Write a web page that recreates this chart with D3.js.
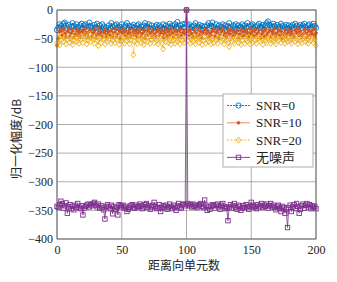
<!DOCTYPE html>
<html><head><meta charset="utf-8">
<script src="https://cdn.jsdelivr.net/npm/d3@7"></script>
<style>body{margin:0;background:#fff}svg{display:block}</style>
</head><body>
<script>
const xTicks = [0, 50, 100, 150, 200];
const yTicks = [0, -50, -100, -150, -200, -250, -300, -350, -400];
const seriesNames = ["SNR=0", "SNR=10", "SNR=20", "无噪声"];
const snr0 = [
-35,-31,-25,-28,-33,-24,-22,-27,-32,-26,-36,-29,-23,-28,-34,-25,-30,-37,-27,-24,
-32,-27,-25,-34,-29,-22,-28,-31,-36,-26,-30,-24,-33,-27,-37,-25,-29,-34,-31,-41,
-27,-32,-23,-29,-35,-27,-25,-31,-29,-34,-25,-37,-30,-27,-23,-32,-28,-35,-29,-26,
-31,-38,-27,-25,-32,-29,-36,-27,-23,-31,-29,-25,-34,-27,-32,-37,-29,-26,-33,-27,
-30,-34,-25,-32,-27,-36,-29,-24,-31,-27,-34,-25,-30,-21,-32,-27,-35,-25,-30,-24,
0,
-27,-25,-32,-29,-36,-27,-23,-31,-29,-26,-34,-28,-32,-29,-37,-27,-23,-31,-28,-22,
-30,-34,-25,-32,-27,-36,-29,-25,-31,-27,-35,-29,-23,-32,-37,-27,-29,-25,-34,-27,
-32,-29,-25,-36,-27,-31,-23,-29,-35,-27,-25,-32,-29,-36,-27,-24,-31,-29,-26,-34,
-27,-23,-20,-26,-32,-29,-24,-28,-35,-26,-30,-32,-24,-28,-34,-29,-26,-32,-27,-36,
-29,-26,-32,-24,-28,-34,-29,-26,-31,-27,-24,-30,-35,-27,-25,-32,-29,-24,-28,-31];
const snr10 = [
-62,-50,-38,-35,-44,-33,-41,-47,-37,-32,-46,-40,-35,-48,-42,-34,-44,-37,-47,-39,
-35,-44,-32,-41,-48,-37,-34,-46,-40,-35,-49,-42,-32,-44,-38,-47,-40,-34,-46,-42,
-37,-44,-35,-47,-40,-32,-46,-41,-35,-50,-39,-34,-44,-37,-48,-41,-35,-46,-40,-33,
-44,-37,-47,-40,-34,-46,-41,-35,-49,-37,-44,-32,-40,-47,-35,-42,-46,-38,-34,-44,
-40,-35,-48,-41,-34,-46,-37,-44,-32,-40,-47,-35,-42,-37,-46,-34,-44,-40,-35,-42,
0,
-37,-44,-34,-41,-47,-35,-40,-46,-32,-44,-37,-49,-40,-34,-42,-35,-47,-40,-44,-37,
-34,-46,-40,-35,-49,-42,-37,-32,-44,-40,-47,-35,-42,-34,-46,-37,-44,-40,-35,-49,
-42,-34,-46,-37,-44,-35,-40,-47,-32,-42,-37,-46,-34,-44,-40,-35,-49,-42,-37,-46,
-34,-44,-40,-35,-47,-37,-42,-32,-46,-40,-35,-44,-37,-49,-42,-34,-46,-40,-35,-44,
-37,-42,-47,-35,-40,-32,-44,-37,-46,-42,-34,-40,-47,-35,-44,-37,-42,-34,-46,-40];
const snr20 = [
-58,-50,-61,-53,-45,-55,-48,-59,-51,-46,-57,-50,-60,-53,-43,-55,-48,-58,-51,-45,
-57,-50,-46,-59,-53,-42,-55,-48,-51,-58,-45,-53,-62,-50,-57,-46,-51,-59,-48,-55,
-50,-45,-58,-53,-46,-57,-51,-44,-60,-50,-55,-48,-58,-46,-53,-50,-59,-51,-45,-78,
-55,-48,-58,-51,-46,-57,-50,-60,-53,-43,-55,-48,-58,-51,-46,-57,-50,-53,-59,-48,
-51,-58,-68,-50,-55,-46,-57,-51,-60,-48,-53,-58,-45,-55,-50,-59,-46,-53,-57,-50,
0,
-53,-46,-58,-50,-55,-45,-59,-51,-48,-57,-50,-60,-53,-46,-58,-51,-55,-48,-59,-50,
-57,-46,-53,-58,-50,-45,-55,-51,-59,-48,-53,-57,-64,-50,-55,-46,-58,-51,-48,-57,
-50,-60,-53,-46,-58,-51,-55,-48,-59,-50,-57,-45,-53,-58,-50,-46,-55,-51,-60,-48,
-53,-57,-50,-46,-58,-51,-55,-48,-59,-50,-53,-45,-57,-51,-46,-58,-50,-55,-48,-53,
-58,-50,-46,-55,-51,-59,-48,-53,-57,-50,-45,-55,-51,-58,-48,-53,-50,-57,-51,-62];
const noNoise = [
-343,-345,-340,-334,-338,-346,-342,-337,-355,-344,-340,-347,-343,-349,-341,-345,-338,-344,-347,-342,
-358,-346,-343,-341,-339,-344,-340,-342,-338,-336,-341,-344,-339,-346,-342,-345,-349,-365,-343,-340,
-344,-347,-341,-356,-343,-348,-345,-358,-340,-342,-344,-341,-346,-343,-352,-348,-345,-342,-340,-344,
-346,-341,-345,-343,-339,-342,-347,-344,-340,-338,-345,-342,-348,-344,-341,-336,-343,-347,-345,-340,
-352,-346,-342,-344,-341,-348,-345,-339,-343,-347,-341,-345,-350,-342,-338,-344,-346,-340,-339,-342,
0,
-338,-342,-340,-344,-339,-343,-341,-345,-342,-340,-338,-343,-345,-332,-341,-350,-344,-348,-343,-340,
-342,-346,-341,-339,-344,-348,-341,-338,-343,-347,-345,-368,-344,-340,-346,-342,-338,-345,-348,-341,
-343,-350,-346,-342,-345,-340,-344,-348,-343,-336,-341,-345,-343,-347,-340,-344,-342,-338,-345,-341,
-343,-339,-346,-342,-338,-344,-341,-345,-349,-343,-341,-347,-352,-343,-345,-355,-348,-380,-345,-341,
-352,-344,-340,-347,-338,-343,-355,-348,-342,-339,-346,-341,-338,-344,-340,-347,-342,-345,-343,-347];

const W = 337, H = 282;
const m = {left: 57, right: 21, top: 10, bottom: 43};
const svg = d3.select("body").append("svg").attr("width", W).attr("height", H);
const x = d3.scaleLinear().domain([0, 200]).range([m.left, W - m.right]);
const y = d3.scaleLinear().domain([-400, 0]).range([H - m.bottom, m.top]);
const serif = "'Liberation Serif','Times New Roman',serif";
const cjk = "'Noto Sans CJK SC','Noto Sans',sans-serif";

// grid
const g = svg.append("g");
g.selectAll(".gx").data(xTicks).join("line")
  .attr("x1", d => x(d)).attr("x2", d => x(d)).attr("y1", y(-400)).attr("y2", y(0))
  .attr("stroke", "#8a8a8a").attr("stroke-width", 0.7);
g.selectAll(".gy").data(yTicks).join("line")
  .attr("y1", d => y(d)).attr("y2", d => y(d)).attr("x1", x(0)).attr("x2", x(200))
  .attr("stroke", "#8a8a8a").attr("stroke-width", 0.7);

// axes
const xAxis = svg.append("g").attr("transform", `translate(0,${y(-400)})`)
  .call(d3.axisBottom(x).tickValues(xTicks).tickSize(0).tickPadding(6).tickFormat(d3.format("d")));
const yAxis = svg.append("g").attr("transform", `translate(${x(0)},0)`)
  .call(d3.axisLeft(y).tickValues(yTicks).tickSize(0).tickPadding(4).tickFormat(d3.format("d")));
[xAxis, yAxis].forEach(a => {
  a.select(".domain").remove();
  a.selectAll("text").attr("font-family", serif).attr("font-size", 12).attr("fill", "#222");
});

const colors = ["#0072BD", "#D95319", "#EDB120", "#7E2F8E"];
const data = [snr0, snr10, snr20, noNoise];
const line = d3.line().x((d, i) => x(i)).y(d => y(d));
const plot = svg.append("g");

function marker(sel, k, c) {
  if (k === 0) {
    sel.append("circle").attr("r", 2.6).attr("fill", "none").attr("stroke", c).attr("stroke-width", 0.9);
  } else if (k === 1) {
    sel.append("circle").attr("r", 1.5).attr("fill", c).attr("stroke", c).attr("stroke-width", 0.6);
  } else if (k === 2) {
    sel.append("path").attr("d", "M0,-3.1L2.4,0L0,3.1L-2.4,0Z").attr("fill", "none").attr("stroke", c).attr("stroke-width", 0.9);
  } else {
    sel.append("rect").attr("x", -2.2).attr("y", -2.2).attr("width", 4.4).attr("height", 4.4)
      .attr("fill", "none").attr("stroke", c).attr("stroke-width", 0.9);
  }
}

data.forEach((arr, k) => {
  const c = colors[k];
  const gs = plot.append("g");
  gs.append("path").datum(arr).attr("d", line).attr("fill", "none").attr("stroke", c)
    .attr("stroke-width", 0.8).attr("stroke-dasharray", k === 2 ? "2,1.5" : null);
  gs.selectAll("g.m").data(arr).join("g").attr("class", "m")
    .attr("transform", (d, i) => `translate(${x(i)},${y(d)})`)
    .each(function () { marker(d3.select(this), k, c); });
});

// frame
svg.append("rect").attr("x", x(0)).attr("y", y(0)).attr("width", x(200) - x(0)).attr("height", y(-400) - y(0))
  .attr("fill", "none").attr("stroke", "#555").attr("stroke-width", 0.8);

// legend
const lg = svg.append("g").attr("transform", "translate(223,94)");
lg.append("rect").attr("width", 90).attr("height", 73).attr("fill", "#fff").attr("stroke", "#999").attr("stroke-width", 0.8);
seriesNames.forEach((name, k) => {
  const yy = 11.5 + k * 17.3;
  const c = colors[k];
  lg.append("line").attr("x1", 4).attr("x2", 27).attr("y1", yy).attr("y2", yy).attr("stroke", c)
    .attr("stroke-width", 0.9).attr("stroke-dasharray", k === 2 ? "2,1.5" : (k === 0 ? "2,1" : null))
    .attr("opacity", k === 1 ? 0.7 : 1);
  marker(lg.append("g").attr("transform", `translate(15.5,${yy})`), k, c);
  lg.append("text").attr("x", 33).attr("y", yy + 4.5).text(name)
    .attr("font-family", k === 3 ? cjk : serif).attr("font-size", 13).attr("fill", "#222");
});

// labels
svg.append("text").attr("x", 184).attr("y", 270).attr("text-anchor", "middle")
  .attr("font-family", cjk).attr("font-size", 12).attr("fill", "#222").text("距离向单元数");
svg.append("text").attr("transform", "translate(21,139) rotate(-90)").attr("text-anchor", "middle")
  .attr("font-family", cjk).attr("font-size", 12).attr("fill", "#222").text("归一化幅度/dB");
</script>
</body></html>
